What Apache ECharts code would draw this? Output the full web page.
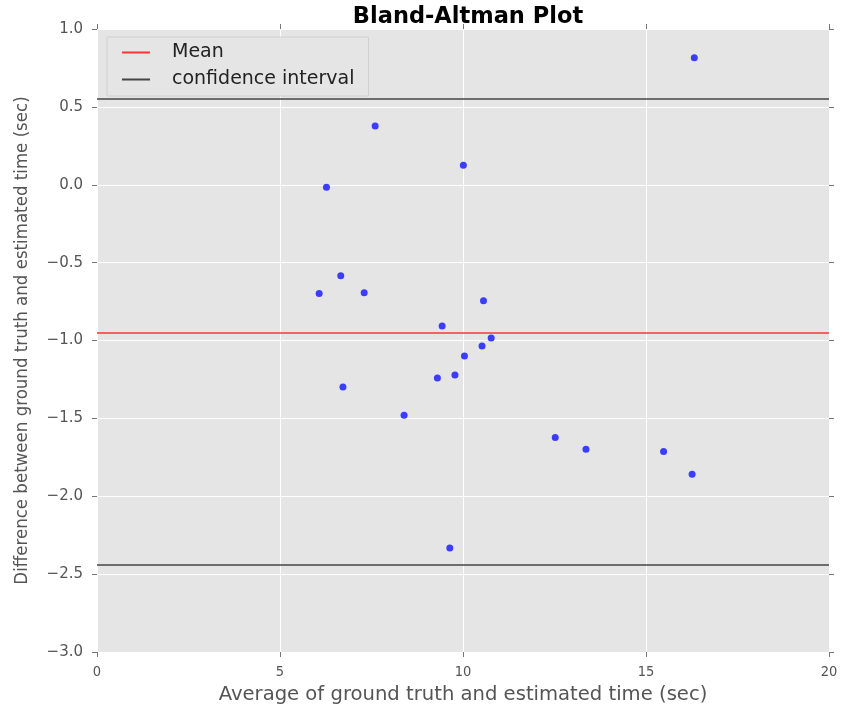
<!DOCTYPE html>
<html><head><meta charset="utf-8">
<script src="https://cdn.jsdelivr.net/npm/echarts@6/dist/echarts.min.js"></script>
<style>html,body{margin:0;padding:0;background:#fff}#c{width:842px;height:706px}</style>
</head><body><div id="c"></div>
<script>
const avgTime = [7.60, 10.01, 6.27, 6.66, 6.07, 7.30, 10.56, 9.43, 10.77, 10.52, 10.04, 9.30, 9.78, 6.72, 8.39, 12.52, 13.36, 15.48, 16.26, 9.64, 16.32];
const diffTime = [0.377, 0.125, -0.016, -0.584, -0.699, -0.693, -0.744, -0.907, -0.984, -1.035, -1.10, -1.241, -1.221, -1.299, -1.48, -1.622, -1.699, -1.712, -1.859, -2.332, 0.816];
const meanDiff = -0.946;
const ciUpper = 0.549;
const ciLower = -2.441;
const xTicks = [0, 5, 10, 15, 20];
const yTicks = [-3.0, -2.5, -2.0, -1.5, -1.0, -0.5, 0.0, 0.5, 1.0];

const points = avgTime.map((x, i) => [x, diffTime[i]]);
const chart = echarts.init(document.getElementById('c'), null, {renderer: 'canvas'});
const tickColor = '#555';
const cond = '"DejaVu Sans Condensed","Liberation Sans Narrow","DejaVu Sans",sans-serif';
const tickStyle = {show: true, length: 5, lineStyle: {color: '#777'}};
chart.setOption({
  animation: false,
  backgroundColor: '#fff',
  title: {text: 'Bland-Altman Plot', left: 463, top: 1, textAlign: 'center',
    textStyle: {fontFamily: 'DejaVu Sans', fontWeight: 'bold', fontSize: 22.5, color: '#000'}},
  grid: {left: 97, right: 13, top: 29, bottom: 54, show: true, backgroundColor: '#e5e5e5', borderWidth: 0,
    outerBoundsMode: 'none', containLabel: false},
  legend: {
    left: 107, top: 37, orient: 'vertical', itemWidth: 28, itemHeight: 2, itemGap: 8,
    padding: [6, 14, 7, 15], borderColor: '#d0d0d0', borderWidth: 1, backgroundColor: '#e5e5e5',
    textStyle: {fontFamily: 'DejaVu Sans', fontSize: 19, lineHeight: 19, color: '#222', padding: [0, 0, 0, 17]},
    data: [{name: 'Mean', icon: 'rect', itemStyle: {color: '#ff3333'}},
           {name: 'confidence interval', icon: 'rect', itemStyle: {color: '#444'}}]
  },
  xAxis: [{
    type: 'value', min: 0, max: 20, interval: 5,
    name: 'Average of ground truth and estimated time (sec)', nameLocation: 'middle', nameGap: 31,
    nameTextStyle: {fontFamily: 'DejaVu Sans', fontSize: 19.6, color: tickColor},
    axisLine: {show: false, onZero: false},
    axisTick: tickStyle,
    axisLabel: {fontFamily: cond, fontSize: 14.5, color: tickColor, margin: 13},
    splitLine: {show: true, lineStyle: {color: '#fff', width: 1}}
  }, {
    type: 'value', position: 'top', min: 0, max: 20, interval: 5,
    axisLine: {show: false, onZero: false}, axisLabel: {show: false},
    axisTick: tickStyle, splitLine: {show: false}
  }],
  yAxis: [{
    type: 'value', min: -3, max: 1, interval: 0.5,
    name: 'Difference between ground truth and estimated time (sec)', nameLocation: 'middle', nameGap: 65,
    nameTextStyle: {fontFamily: cond, fontSize: 18.5, color: tickColor},
    axisLine: {show: false, onZero: false},
    axisTick: tickStyle,
    axisLabel: {fontFamily: 'DejaVu Sans', fontSize: 15, color: tickColor, margin: 14,
      formatter: v => (v < 0 ? '\u2212' + Math.abs(v).toFixed(1) : v.toFixed(1))},
    splitLine: {show: true, lineStyle: {color: '#fff', width: 1}}
  }, {
    type: 'value', position: 'right', min: -3, max: 1, interval: 0.5,
    axisLine: {show: false, onZero: false}, axisLabel: {show: false},
    axisTick: tickStyle, splitLine: {show: false}
  }],
  series: [
    {name: 'Mean', type: 'line', data: [], symbol: 'none', lineStyle: {color: '#ff3333'},
     itemStyle: {color: '#ff3333'},
     markLine: {silent: true, symbol: 'none', label: {show: false},
       lineStyle: {color: '#ff3333', width: 1.5, type: 'solid'}, data: [{yAxis: meanDiff}]}},
    {name: 'confidence interval', type: 'line', data: [], symbol: 'none', lineStyle: {color: '#444'},
     itemStyle: {color: '#444'},
     markLine: {silent: true, symbol: 'none', label: {show: false},
       lineStyle: {color: '#444', width: 1.5, type: 'solid'}, data: [{yAxis: ciUpper}, {yAxis: ciLower}]}},
    {name: 'points', type: 'scatter', data: points, symbolSize: 7,
     itemStyle: {color: '#3c3cff', opacity: 1}}
  ]
});
</script></body></html>
